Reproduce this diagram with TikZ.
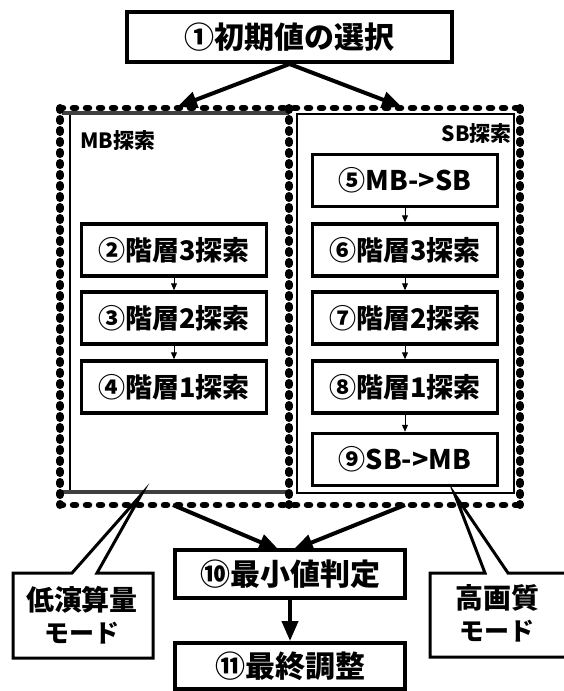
\documentclass[tikz,border=0pt]{standalone}
\usepackage{fontspec}
\setmainfont{Noto Sans CJK JP}
\usetikzlibrary{arrows.meta}
\begin{document}
\begin{tikzpicture}[x=1pt,y=-1pt,
  stepbox/.style={draw,line width=3.5pt,minimum width=185pt,minimum height=52pt,inner sep=0pt,font=\fontsize{27}{30}\selectfont\bfseries},
  mainbox/.style={draw,line width=4pt,inner sep=0pt,font=\fontsize{30}{34}\selectfont\bfseries},
  smallarrow/.style={line width=1pt,-{Triangle[length=7pt,width=6pt]}},
  bigarrow/.style={line width=4pt,-{Triangle[length=20pt,width=16pt]}},
  vdots/.style={line width=8pt,line cap=round,dash pattern=on 2pt off 9pt},
  hdots/.style={line width=6.5pt,line cap=round,dash pattern=on 3pt off 10pt},
  grayband/.style={line width=4pt,black!75},
  callout/.style={draw,line width=3pt,line join=miter},
  lbl/.style={inner sep=0pt,font=\fontsize{21}{24}\selectfont\bfseries},
  calltext/.style={inner sep=0pt,align=center}
]
\useasboundingbox (0,0) rectangle (564,691);

% panels
\draw[line width=1.5pt] (297,114) rectangle (514,493);
\draw[line width=1.5pt] (70,113) -- (70,492);
\draw[grayband] (62,113) -- (289,113);
\draw[grayband] (62,492) -- (289,492);
\draw[vdots] (60,108) -- (60,505);
\draw[vdots] (520,108) -- (520,505);
\draw[vdots] (289,108) -- (289,505);
\draw[hdots] (60,108) -- (520,108);
\draw[hdots] (60,505) -- (520,505);

\node[lbl,anchor=west] (mbl) at (80,141) {MB探索};
\node[lbl,anchor=east] (sbl) at (512,134) {SB探索};

% main boxes
\node[mainbox,minimum width=325pt,minimum height=50pt] (b1) at (289.5,37) {①初期値の選択};
\node[mainbox,minimum width=230pt,minimum height=48pt] (b10) at (290,574) {⑩最小値判定};
\node[mainbox,minimum width=230pt,minimum height=46pt] (b11) at (290,666) {⑪最終調整};

% left column
\node[stepbox] (b2) at (174,250) {②階層3探索};
\node[stepbox] (b3) at (174,318) {③階層2探索};
\node[stepbox] (b4) at (174,387) {④階層1探索};
% right column
\node[stepbox] (b5) at (405,180.5) {⑤MB->SB};
\node[stepbox] (b6) at (405,250) {⑥階層3探索};
\node[stepbox] (b7) at (405,318) {⑦階層2探索};
\node[stepbox] (b8) at (405,387) {⑧階層1探索};
\node[stepbox] (b9) at (405,459.5) {⑨SB->MB};

\draw[smallarrow] (b2.south) -- (b3.north);
\draw[smallarrow] (b3.south) -- (b4.north);
\draw[smallarrow] (b5.south) -- (b6.north);
\draw[smallarrow] (b6.south) -- (b7.north);
\draw[smallarrow] (b7.south) -- (b8.north);
\draw[smallarrow] (b8.south) -- (b9.north);

% big arrows
\coordinate (mbin) at (177,107);
\coordinate (sbin) at (402,107);
\draw[bigarrow] (b1.south) -- (mbin);
\draw[bigarrow] (b1.south) -- (sbin);
\coordinate (mbout) at (173,505);
\coordinate (sbout) at (405,505);
\coordinate (in1) at (279,550);
\coordinate (in2) at (293,550);
\draw[bigarrow] (mbout) -- (in1);
\draw[bigarrow] (sbout) -- (in2);
\draw[bigarrow] (b10.south) -- (b11.north);

% callouts
\draw[callout] (13,573) -- (72,573) -- (141,495) -- (97,573) -- (153,573) -- (153,658) -- (13,658) -- cycle;
\node[calltext,font=\fontsize{28}{30}\selectfont\bfseries] (t1) at (82,600) {低演算量};
\node[calltext,font=\fontsize{25}{27}\selectfont\bfseries] (t2) at (82,633) {モード};

\draw[callout] (568,573) -- (508,573) -- (455,495) -- (485,573) -- (430,573) -- (430,657) -- (568,657);
\node[calltext,font=\fontsize{28}{30}\selectfont\bfseries] (t3) at (497,598) {高画質};
\node[calltext,font=\fontsize{25}{27}\selectfont\bfseries] (t4) at (497,631) {モード};
\end{tikzpicture}
\end{document}
